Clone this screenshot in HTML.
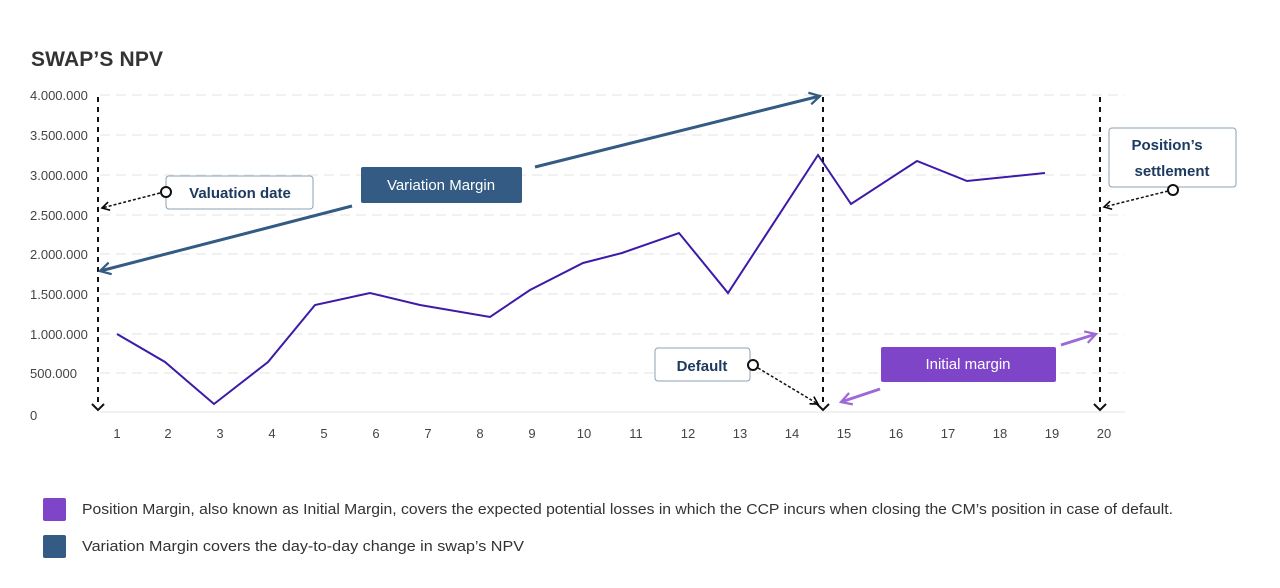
<!DOCTYPE html>
<html><head><meta charset="utf-8"><style>
body{margin:0;background:#fff;font-family:"Liberation Sans","DejaVu Sans",sans-serif;}
</style></head><body>
<svg width="1280" height="583" viewBox="0 0 1280 583" xmlns="http://www.w3.org/2000/svg" font-family="Liberation Sans, DejaVu Sans, sans-serif">
<defs>
<marker id="ab" viewBox="0 0 10 10" refX="8" refY="5" markerWidth="7" markerHeight="7" orient="auto-start-reverse"><path d="M1,1 L8,5 L1,9" fill="none" stroke="#000" stroke-width="1.5"/></marker>
<marker id="ablue" viewBox="0 0 10 10" refX="8" refY="5" markerWidth="5" markerHeight="5" orient="auto"><path d="M1,1 L8,5 L1,9" fill="none" stroke="#335b84" stroke-width="1.5"/></marker>
<marker id="apur" viewBox="0 0 10 10" refX="8" refY="5" markerWidth="5" markerHeight="5" orient="auto"><path d="M1,1 L8,5 L1,9" fill="none" stroke="#9b6ad6" stroke-width="1.5"/></marker>
</defs>
<text x="31" y="66" font-size="21" font-weight="bold" fill="#333" textLength="132">SWAP’S NPV</text>
<g stroke="#e3e3e3" stroke-width="1" stroke-dasharray="10,6">
<line x1="100" y1="95" x2="1125" y2="95"/><line x1="100" y1="135" x2="1125" y2="135"/><line x1="100" y1="175" x2="1125" y2="175"/><line x1="100" y1="215" x2="1125" y2="215"/><line x1="100" y1="254" x2="1125" y2="254"/><line x1="100" y1="294" x2="1125" y2="294"/><line x1="100" y1="334" x2="1125" y2="334"/><line x1="100" y1="373" x2="1125" y2="373"/>
</g>
<line x1="100" y1="412" x2="1125" y2="412" stroke="#e3e3e3"/>
<g font-size="13" fill="#444">
<text x="30" y="100">4.000.000</text><text x="30" y="140">3.500.000</text><text x="30" y="180">3.000.000</text><text x="30" y="220">2.500.000</text><text x="30" y="259">2.000.000</text><text x="30" y="299">1.500.000</text><text x="30" y="339">1.000.000</text><text x="30" y="378">500.000</text><text x="30" y="420">0</text>
</g>
<g font-size="13" fill="#444" text-anchor="middle">
<text x="117" y="438">1</text><text x="168" y="438">2</text><text x="220" y="438">3</text><text x="272" y="438">4</text><text x="324" y="438">5</text><text x="376" y="438">6</text><text x="428" y="438">7</text><text x="480" y="438">8</text><text x="532" y="438">9</text><text x="584" y="438">10</text><text x="636" y="438">11</text><text x="688" y="438">12</text><text x="740" y="438">13</text><text x="792" y="438">14</text><text x="844" y="438">15</text><text x="896" y="438">16</text><text x="948" y="438">17</text><text x="1000" y="438">18</text><text x="1052" y="438">19</text><text x="1104" y="438">20</text>
</g>
<polyline fill="none" stroke="#3d1aa8" stroke-width="2" points="117,334 165,362 214,404 268,362 315,305 370,293 420,305 490,317 530,290 583,263 622,253 679,233 728,293 818,155 851,204 917,161 967,181 1045,173"/>
<g stroke="#111" stroke-width="2" stroke-dasharray="5,5" fill="none">
<line x1="98" y1="97" x2="98" y2="406"/><line x1="823" y1="97" x2="823" y2="406"/><line x1="1100" y1="97" x2="1100" y2="406"/>
</g>
<g stroke="#111" stroke-width="2" fill="none">
<path d="M92,404 L98,410 L104,404"/><path d="M817,404 L823,410 L829,404"/><path d="M1094,404 L1100,410 L1106,404"/>
</g>
<line x1="352" y1="206" x2="100" y2="271" stroke="#335b84" stroke-width="3" marker-end="url(#ablue)"/>
<line x1="535" y1="167" x2="820" y2="96" stroke="#335b84" stroke-width="3" marker-end="url(#ablue)"/>
<rect x="361" y="167" width="161" height="36" rx="2" fill="#335b84"/>
<text x="441" y="190" font-size="15" fill="#fff" text-anchor="middle">Variation Margin</text>
<rect x="166" y="176" width="147" height="33" rx="3" fill="#fff" stroke="#8aa0b5"/>
<text x="240" y="198" font-size="15" font-weight="bold" fill="#1d3a60" text-anchor="middle">Valuation date</text>
<line x1="160" y1="193" x2="102" y2="208" stroke="#111" stroke-width="1.5" stroke-dasharray="3,2" marker-end="url(#ab)"/>
<circle cx="166" cy="192" r="5" fill="#fff" stroke="#111" stroke-width="2"/>
<rect x="1109" y="128" width="127" height="59" rx="3" fill="#fff" stroke="#8aa0b5"/>
<text x="1167" y="150" font-size="15" font-weight="bold" fill="#1d3a60" text-anchor="middle">Position’s</text>
<text x="1172" y="176" font-size="15" font-weight="bold" fill="#1d3a60" text-anchor="middle">settlement</text>
<line x1="1168" y1="191" x2="1104" y2="207" stroke="#111" stroke-width="1.5" stroke-dasharray="3,2" marker-end="url(#ab)"/>
<circle cx="1173" cy="190" r="5" fill="#fff" stroke="#111" stroke-width="2"/>
<rect x="655" y="348" width="95" height="33" rx="3" fill="#fff" stroke="#8aa0b5"/>
<text x="702" y="371" font-size="15" font-weight="bold" fill="#1d3a60" text-anchor="middle">Default</text>
<line x1="758" y1="368" x2="818" y2="404" stroke="#111" stroke-width="1.5" stroke-dasharray="3,2" marker-end="url(#ab)"/>
<circle cx="753" cy="365" r="5" fill="#fff" stroke="#111" stroke-width="2"/>
<line x1="880" y1="389" x2="841" y2="402" stroke="#9b6ad6" stroke-width="3" marker-end="url(#apur)"/>
<line x1="1061" y1="345" x2="1096" y2="334" stroke="#9b6ad6" stroke-width="3" marker-end="url(#apur)"/>
<rect x="881" y="347" width="175" height="35" rx="2" fill="#7e45c9"/>
<text x="968" y="369" font-size="15" fill="#fff" text-anchor="middle">Initial margin</text>
<rect x="43" y="498" width="23" height="23" rx="2" fill="#7e45c9"/>
<text x="82" y="514" font-size="14.5" fill="#333" textLength="1091" lengthAdjust="spacingAndGlyphs">Position Margin, also known as Initial Margin, covers the expected potential losses in which the CCP incurs when closing the CM’s position in case of default.</text>
<rect x="43" y="535" width="23" height="23" rx="2" fill="#335b84"/>
<text x="82" y="551" font-size="14.5" fill="#333" textLength="442" lengthAdjust="spacingAndGlyphs">Variation Margin covers the day-to-day change in swap’s NPV</text>
</svg>
</body></html>
